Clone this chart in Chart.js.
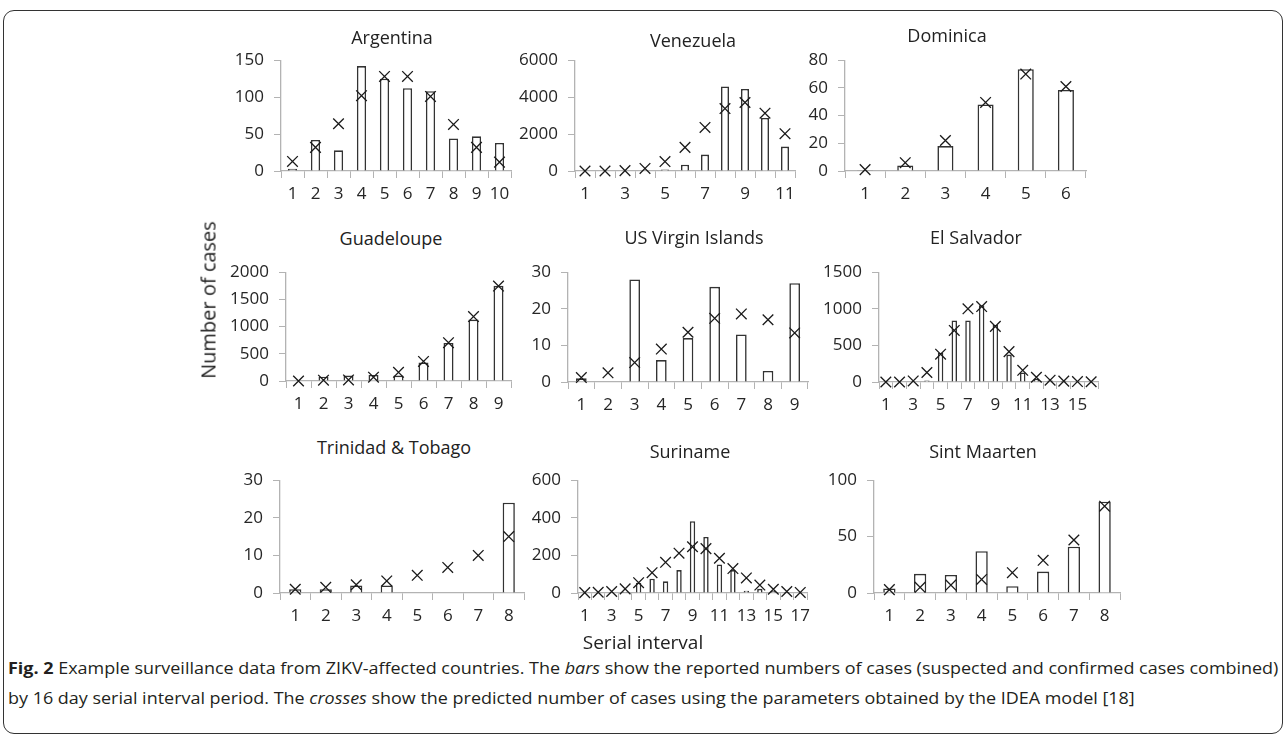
<!DOCTYPE html>
<html>

<head>
    <script src="https://cdn.jsdelivr.net/npm/chart.js"></script>
    <style>
        html,
        body {
            margin: 0px;
            padding: 0px;
            background: #fff;
        }

        body {
            position: relative;
            width: 1287px;
            height: 740px;
            overflow: hidden;
            font-family: 'Open Sans', sans-serif;
            color: #222;
        }

        .frame {
            position: absolute;
            left: 3px;
            top: 10px;
            width: 1278px;
            height: 722px;
            border: 1.5px solid #333;
            border-radius: 11px;
        }

        .panel {
            position: absolute;
        }

        .ptitle {
            position: absolute;
            font-size: 18px;
            white-space: nowrap;
            transform: translate(-50%, -50%);
            color: #222;
        }

        .axtitle {
            position: absolute;
            font-size: 19px;
            white-space: nowrap;
            transform: translate(-50%, -50%);
            color: #222;
        }

        .caption {
            position: absolute;
            left: 8px;
            font-size: 16px;
            line-height: 20px;
            white-space: nowrap;
            color: #231f20;
            transform-origin: 0 50%;
        }
    </style>
</head>

<body>
    <div class="frame"></div>

    <script>

        // ---- data ----
        const argentinaCats = ['1', '2', '3', '4', '5', '6', '7', '8', '9', '10'];
        const argentinaBars = [3, 42, 28, 142, 125, 112, 108, 44, 47, 38];
        const argentinaCross = [13, 32, 64, 102, 128, 128, 101, 63, 32, 12];

        const venezuelaCats = ['1', '2', '3', '4', '5', '6', '7', '8', '9', '10', '11'];
        const venezuelaBars = [0, 0, 0, 0, 80, 340, 890, 4580, 4440, 2870, 1320];
        const venezuelaCross = [0, 0, 20, 140, 510, 1280, 2360, 3380, 3710, 3130, 2020];

        const dominicaCats = ['1', '2', '3', '4', '5', '6'];
        const dominicaBars = [0.5, 4, 18, 48, 73.5, 58.5];
        const dominicaCross = [1, 6, 22, 49.5, 70, 61];

        const guadeloupeCats = ['1', '2', '3', '4', '5', '6', '7', '8', '9'];
        const guadeloupeBars = [0, 80, 100, 110, 100, 340, 700, 1130, 1750];
        const guadeloupeCross = [0, 15, 20, 70, 160, 360, 705, 1185, 1745];

        const usviCats = ['1', '2', '3', '4', '5', '6', '7', '8', '9'];
        const usviBars = [1, 0, 28, 6, 12, 26, 13, 3, 27];
        const usviCross = [1.2, 2.5, 5.3, 9, 13.6, 17.4, 18.6, 17, 13.4];

        const elSalvadorCats = ['1', '2', '3', '4', '5', '6', '7', '8', '9', '10', '11', '12', '13', '14', '15', '16'];
        const elSalvadorBars = [0, 0, 0, 20, 400, 840, 840, 1050, 780, 375, 130, 40, 20, 15, 10, 8];
        const elSalvadorCross = [0, 0, 15, 130, 380, 705, 1000, 1030, 760, 415, 160, 65, 25, 12, 6, 3];

        const trinidadCats = ['1', '2', '3', '4', '5', '6', '7', '8'];
        const trinidadBars = [1, 1, 2, 2, 0, 0, 0, 24];
        const trinidadCross = [1, 1.5, 2.2, 3.2, 4.7, 6.8, 10, 15];

        const surinameCats = ['1', '2', '3', '4', '5', '6', '7', '8', '9', '10', '11', '12', '13', '14', '15', '16', '17'];
        const surinameBars = [0, 0, 0, 5, 55, 76, 62, 122, 382, 298, 152, 122, 12, 22, 10, 5, 2];
        const surinameCross = [2, 4, 8, 22, 55, 108, 163, 212, 246, 236, 185, 130, 80, 42, 20, 8, 3];

        const sintMaartenCats = ['1', '2', '3', '4', '5', '6', '7', '8'];
        const sintMaartenBars = [4, 17, 16, 37, 6, 19, 41, 81];
        const sintMaartenCross = [3, 5, 7, 12, 18, 29, 47, 77];

        // ---- layout (plot area edges in page pixels) ----
        const YW = 70;   // width reserved for y axis
        const XH = 42;   // height reserved for x axis
        const PT = 14;   // top padding
        const PR = 12;   // right padding
        const fontFam = "'Open Sans', sans-serif";
        const textColor = '#262626';
        const axisColor = '#b3b3b3';

        const boxes = {
            argentina: { L: 281, R: 511, T: 54, B: 171, tx: 392, ty: 37 },
            venezuela: { L: 575, R: 795, T: 54, B: 171, tx: 693, ty: 40 },
            dominica: { L: 845, R: 1086, T: 54, B: 171, tx: 947, ty: 35 },
            guadeloupe: { L: 286, R: 511, T: 266, B: 381, tx: 391, ty: 238 },
            usvi: { L: 568, R: 808, T: 266, B: 382, tx: 694, ty: 237 },
            elSalvador: { L: 879, R: 1098, T: 266, B: 382, tx: 976, ty: 237 },
            trinidad: { L: 280, R: 524, T: 474, B: 593, tx: 394, ty: 447 },
            suriname: { L: 578, R: 807, T: 474, B: 593, tx: 690, ty: 451 },
            sintMaarten: { L: 874, R: 1120, T: 474, B: 593, tx: 983, ty: 451 }
        };

        function makePanel(id, title, cats, bars, crosses, yMax, yStep, oddOnly) {
            const b = boxes[id];
            const div = document.createElement('div');
            div.className = 'panel';
            div.style.left = (b.L - YW) + 'px';
            div.style.top = (b.T - PT) + 'px';
            div.style.width = (b.R - b.L + YW + PR) + 'px';
            div.style.height = (b.B - b.T + PT + XH) + 'px';
            const canvas = document.createElement('canvas');
            div.appendChild(canvas);
            document.body.appendChild(div);

            const t = document.createElement('div');
            t.className = 'ptitle';
            t.style.left = b.tx + 'px';
            t.style.top = b.ty + 'px';
            t.textContent = title;
            document.body.appendChild(t);

            new Chart(canvas, {
                type: 'bar',
                data: {
                    labels: cats,
                    datasets: [
                        {
                            type: 'bar',
                            data: bars,
                            backgroundColor: '#ffffff',
                            borderColor: '#333333',
                            borderWidth: 1.6,
                            barPercentage: 0.4,
                            categoryPercentage: 1,
                            order: 2
                        },
                        {
                            type: 'line',
                            data: crosses,
                            showLine: false,
                            pointStyle: 'crossRot',
                            pointRadius: 7.5,
                            pointBorderColor: '#1a1a1a',
                            pointBorderWidth: 1.3,
                            clip: false,
                            order: 1
                        }
                    ]
                },
                options: {
                    responsive: true,
                    maintainAspectRatio: false,
                    animation: false,
                    events: [],
                    layout: { padding: { top: PT, right: PR, left: 0, bottom: 0 } },
                    plugins: {
                        legend: { display: false },
                        tooltip: { enabled: false }
                    },
                    scales: {
                        x: {
                            offset: true,
                            grid: {
                                display: true,
                                drawOnChartArea: false,
                                drawTicks: true,
                                tickLength: 7,
                                color: axisColor,
                                offset: true
                            },
                            border: { display: true, color: axisColor, width: 1.3 },
                            ticks: {
                                color: textColor,
                                font: { family: fontFam, size: 17 },
                                padding: 6,
                                autoSkip: false,
                                maxRotation: 0,
                                callback: function (v, i) {
                                    if (oddOnly && i % 2 === 1) return '';
                                    return cats[i];
                                }
                            },
                            afterFit: function (s) { s.height = XH; }
                        },
                        y: {
                            min: 0,
                            max: yMax,
                            grid: {
                                display: true,
                                drawOnChartArea: false,
                                drawTicks: true,
                                tickLength: 7,
                                color: axisColor
                            },
                            border: { display: true, color: axisColor, width: 1.3 },
                            ticks: {
                                stepSize: yStep,
                                color: textColor,
                                font: { family: fontFam, size: 17 },
                                padding: 10,
                                callback: function (v) { return String(v); }
                            },
                            afterFit: function (s) { s.width = YW; }
                        }
                    }
                }
            });
        }

        makePanel('argentina', 'Argentina', argentinaCats, argentinaBars, argentinaCross, 150, 50, false);
        makePanel('venezuela', 'Venezuela', venezuelaCats, venezuelaBars, venezuelaCross, 6000, 2000, true);
        makePanel('dominica', 'Dominica', dominicaCats, dominicaBars, dominicaCross, 80, 20, false);
        makePanel('guadeloupe', 'Guadeloupe', guadeloupeCats, guadeloupeBars, guadeloupeCross, 2000, 500, false);
        makePanel('usvi', 'US Virgin Islands', usviCats, usviBars, usviCross, 30, 10, false);
        makePanel('elSalvador', 'El Salvador', elSalvadorCats, elSalvadorBars, elSalvadorCross, 1500, 500, true);
        makePanel('trinidad', 'Trinidad & Tobago', trinidadCats, trinidadBars, trinidadCross, 30, 10, false);
        makePanel('suriname', 'Suriname', surinameCats, surinameBars, surinameCross, 600, 200, true);
        makePanel('sintMaarten', 'Sint Maarten', sintMaartenCats, sintMaartenBars, sintMaartenCross, 100, 50, false);

        // axis titles
        const yTitle = document.createElement('div');
        yTitle.className = 'axtitle';
        yTitle.style.left = '208px';
        yTitle.style.top = '300px';
        yTitle.style.fontSize = '20px';
        yTitle.style.transform = 'translate(-50%, -50%) rotate(-90deg)';
        yTitle.textContent = 'Number of cases';
        document.body.appendChild(yTitle);

        const xTitle = document.createElement('div');
        xTitle.className = 'axtitle';
        xTitle.style.left = '643px';
        xTitle.style.top = '642px';
        xTitle.textContent = 'Serial interval';
        document.body.appendChild(xTitle);

        // caption, fitted to the width of the original line
        const cap1 = document.createElement('div');
        cap1.className = 'caption';
        cap1.style.top = '658px';
        cap1.innerHTML = '<b>Fig. 2</b> Example surveillance data from ZIKV-affected countries. The <i>bars</i> show the reported numbers of cases (suspected and confirmed cases combined)';
        document.body.appendChild(cap1);

        const cap2 = document.createElement('div');
        cap2.className = 'caption';
        cap2.style.top = '688px';
        cap2.innerHTML = 'by 16 day serial interval period. The <i>crosses</i> show the predicted number of cases using the parameters obtained by the IDEA model [18]';
        document.body.appendChild(cap2);

        const squeeze = 1270 / cap1.offsetWidth;
        cap1.style.transform = 'scaleX(' + squeeze + ')';
        cap2.style.transform = 'scaleX(' + squeeze + ')';

    </script>
</body>

</html>
